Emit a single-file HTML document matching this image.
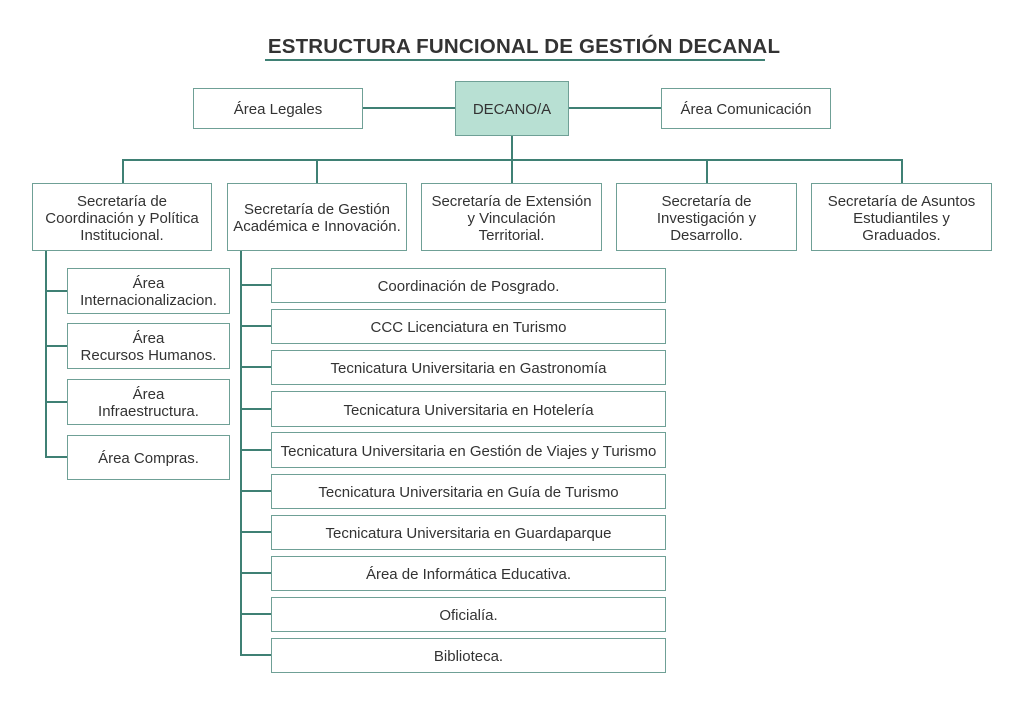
<!DOCTYPE html>
<html><head><meta charset="utf-8"><style>
body{margin:0;background:#fff;}
#c{position:relative;width:1024px;height:706px;font-family:"Liberation Sans",sans-serif;color:#333;overflow:hidden}
.b{position:absolute;box-sizing:border-box;border:1.5px solid #6fa096;background:#fff;display:flex;align-items:center;justify-content:center;text-align:center;font-size:15px;line-height:17px;padding-top:2px}
.l{position:absolute;background:#3f8074}
</style></head><body><div id="c">
<div style="position:absolute;left:24px;width:1000px;top:35px;text-align:center;font-weight:bold;font-size:20.5px;letter-spacing:0.2px;color:#333">ESTRUCTURA FUNCIONAL DE GESTIÓN DECANAL</div>
<div class="l" style="left:265px;top:59px;width:500px;height:2px"></div>

<div class="l" style="left:363px;top:107px;width:298px;height:2px"></div>
<div class="l" style="left:511px;top:136px;width:2px;height:47px"></div>
<div class="l" style="left:122px;top:159px;width:781px;height:2px"></div>
<div class="l" style="left:122px;top:159px;width:2px;height:24px"></div>
<div class="l" style="left:316px;top:159px;width:2px;height:24px"></div>
<div class="l" style="left:706px;top:159px;width:2px;height:24px"></div>
<div class="l" style="left:901px;top:159px;width:2px;height:24px"></div>

<div class="b" style="left:193px;top:88px;width:170px;height:41px">Área Legales</div>
<div class="b" style="left:455px;top:81px;width:114px;height:55px;background:#b8e0d3">DECANO/A</div>
<div class="b" style="left:661px;top:88px;width:170px;height:41px">Área Comunicación</div>

<div class="b" style="left:32px;top:183px;width:180px;height:68px">Secretaría de<br>Coordinación y Política<br>Institucional.</div>
<div class="b" style="left:227px;top:183px;width:180px;height:68px">Secretaría de Gestión<br>Académica e Innovación.</div>
<div class="b" style="left:421px;top:183px;width:181px;height:68px">Secretaría de Extensión<br>y Vinculación<br>Territorial.</div>
<div class="b" style="left:616px;top:183px;width:181px;height:68px">Secretaría de<br>Investigación y<br>Desarrollo.</div>
<div class="b" style="left:811px;top:183px;width:181px;height:68px">Secretaría de Asuntos<br>Estudiantiles y<br>Graduados.</div>

<div class="l" style="left:45px;top:251px;width:2px;height:207px"></div>
<div class="l" style="left:45px;top:290px;width:22px;height:2px"></div>
<div class="l" style="left:45px;top:345px;width:22px;height:2px"></div>
<div class="l" style="left:45px;top:401px;width:22px;height:2px"></div>
<div class="l" style="left:45px;top:456px;width:22px;height:2px"></div>
<div class="b" style="left:67px;top:268px;width:163px;height:46px">Área<br>Internacionalizacion.</div>
<div class="b" style="left:67px;top:323px;width:163px;height:46px">Área<br>Recursos Humanos.</div>
<div class="b" style="left:67px;top:379px;width:163px;height:46px">Área<br>Infraestructura.</div>
<div class="b" style="left:67px;top:435px;width:163px;height:45px">Área Compras.</div>

<div class="l" style="left:240px;top:251px;width:2px;height:405px"></div>
<div class="l" style="left:240px;top:284px;width:31px;height:2px"></div>
<div class="l" style="left:240px;top:325px;width:31px;height:2px"></div>
<div class="l" style="left:240px;top:366px;width:31px;height:2px"></div>
<div class="l" style="left:240px;top:408px;width:31px;height:2px"></div>
<div class="l" style="left:240px;top:449px;width:31px;height:2px"></div>
<div class="l" style="left:240px;top:490px;width:31px;height:2px"></div>
<div class="l" style="left:240px;top:531px;width:31px;height:2px"></div>
<div class="l" style="left:240px;top:572px;width:31px;height:2px"></div>
<div class="l" style="left:240px;top:613px;width:31px;height:2px"></div>
<div class="l" style="left:240px;top:654px;width:31px;height:2px"></div>
<div class="b" style="left:271px;top:268px;width:395px;height:35px">Coordinación de Posgrado.</div>
<div class="b" style="left:271px;top:309px;width:395px;height:35px">CCC Licenciatura en Turismo</div>
<div class="b" style="left:271px;top:350px;width:395px;height:35px">Tecnicatura Universitaria en Gastronomía</div>
<div class="b" style="left:271px;top:391px;width:395px;height:36px">Tecnicatura Universitaria en Hotelería</div>
<div class="b" style="left:271px;top:432px;width:395px;height:36px">Tecnicatura Universitaria en Gestión de Viajes y Turismo</div>
<div class="b" style="left:271px;top:474px;width:395px;height:35px">Tecnicatura Universitaria en Guía de Turismo</div>
<div class="b" style="left:271px;top:515px;width:395px;height:35px">Tecnicatura Universitaria en Guardaparque</div>
<div class="b" style="left:271px;top:556px;width:395px;height:35px">Área de Informática Educativa.</div>
<div class="b" style="left:271px;top:597px;width:395px;height:35px">Oficialía.</div>
<div class="b" style="left:271px;top:638px;width:395px;height:35px">Biblioteca.</div>
</div></body></html>
